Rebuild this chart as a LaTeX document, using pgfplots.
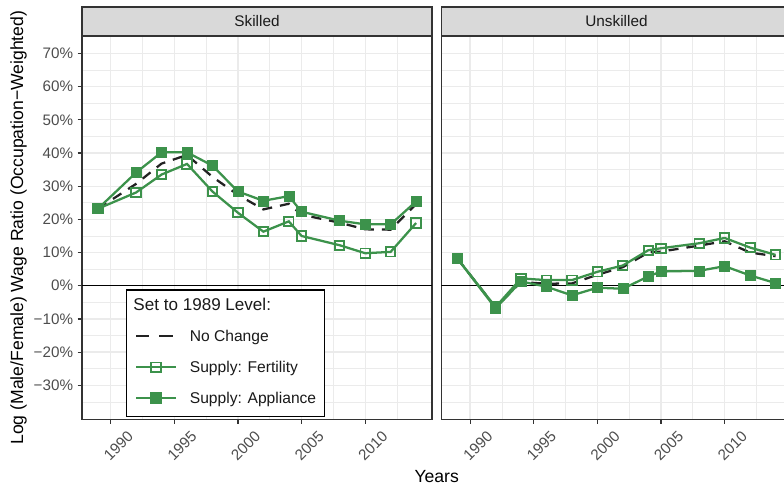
\documentclass[border=0pt]{standalone}
\usepackage{pgfplots}
\usepackage{pgfplotstable}
\pgfplotsset{compat=1.18}
\usepackage{fontspec}
\setmainfont{Liberation Sans}
\definecolor{grn}{RGB}{60,146,75}
\definecolor{g92}{HTML}{EBEBEB}
\definecolor{g85}{HTML}{D9D9D9}
\definecolor{g30}{HTML}{4D4D4D}
\definecolor{g20}{HTML}{333333}
\definecolor{g10}{HTML}{1A1A1A}
\definecolor{dsh}{HTML}{222222}

\pgfplotstableread{
year nc fe ap
1989 23.2 23.2 23.2
1992 30.7 28.1 34.1
1994 36.8 33.5 40.2
1996 39.4 36.7 40.2
1998 32.8 28.4 36.2
2000 27.4 22.0 28.4
2002 23.0 16.3 25.6
2004 24.7 19.4 27.0
2005 21.4 15.0 22.3
2008 19.0 12.2 19.6
2010 17.0 9.8 18.5
2012 16.9 10.2 18.5
2014 24.6 18.9 25.4
}\skilled

\pgfplotstableread{
year nc fe ap
1989 8.2 8.2 8.2
1992 -6.5 -6.4 -6.8
1994 1.1 2.2 1.3
1996 0.6 1.7 -0.3
1998 0.7 1.7 -2.9
2000 3.3 4.2 -0.6
2002 5.6 6.1 -0.9
2004 10.0 10.7 2.8
2005 10.3 11.3 4.3
2008 12.1 12.8 4.5
2010 13.4 14.4 5.9
2012 10.0 11.5 3.1
2014 8.9 9.3 0.8
}\unskilled

\pgfplotsset{
  panel/.style={
    scale only axis, width=262.5pt, height=287.5pt,
    xmin=1987.75, xmax=2015.25, ymin=-40.25, ymax=75.25,
    xtick={1990,1995,2000,2005,2010},
    xticklabels={1990,1995,2000,2005,2010},
    minor xtick={1987.5,1992.5,1997.5,2002.5,2007.5,2012.5},
    ytick={-30,-20,-10,0,10,20,30,40,50,60,70},
    minor ytick={-35,-25,-15,-5,5,15,25,35,45,55,65,75},
    grid=both,
    major grid style={g92, line width=1pt},
    minor grid style={g92, line width=0.6pt},
    minor tick length=0pt,
    major tick length=3.2pt,
    tick align=outside,
    tick pos=left,
    tick style={g20, line width=0.9pt},
    axis line style={g20, line width=1pt},
    xticklabel style={font=\fontsize{11.4}{13}\selectfont, text=g30, xshift=5.8pt, yshift=-17pt, rotate=45, anchor=center},
    yticklabel style={font=\fontsize{11.4}{13}\selectfont, text=g30},
    every axis title shift=0pt,
    title style={at={(axis description cs:0.5,1)}, anchor=south, draw=g20, fill=g85, line width=1pt,
      minimum width=262.5pt, minimum height=21.75pt, inner sep=0pt, outer sep=0pt,
      text=g10, font=\fontsize{11.5}{13}\selectfont},
  },
  nc/.style={dsh, line width=1.7pt, dash pattern=on 7.5pt off 6pt},
  gl/.style={grn, line width=1.7pt},
  fm/.style={grn, only marks, mark=square, mark size=3.5pt, mark options={line width=1.4pt}},
  am/.style={grn, only marks, mark=square*, mark size=3.75pt, mark options={fill=grn, draw=none}},
}

\begin{document}
\begin{tikzpicture}
\begin{axis}[panel, at={(61.5pt,54.5pt)}, anchor=south west,
  title={Skilled},
  yticklabels={−30\%,−20\%,−10\%,0\%,10\%,20\%,30\%,40\%,50\%,60\%,70\%},
  ylabel={Log (Male/Female) Wage Ratio (Occupation−Weighted)},
  ylabel style={at={(axis description cs:-0.1814,0.5)}, anchor=center, font=\fontsize{13.2}{15}\selectfont, text=black},
  xlabel={Years},
  xlabel style={at={(axis description cs:1.0134,-0.1505)}, anchor=center, font=\fontsize{13.2}{15}\selectfont, text=black},
  legend cell align=left,
  legend image code/.code={\draw[mark repeat=2, mark phase=2, #1, yshift=1.2pt] plot coordinates {(0pt,0pt) (15pt,0pt) (30pt,0pt)};},
  legend style={at={(axis description cs:0.1257,0.3392)}, anchor=north west,
    draw=black, line width=1pt, fill=white, text=g10,
    font=\fontsize{11.7}{14}\selectfont,
    inner xsep=6.2pt, inner ysep=6.9pt, row sep=11.85pt, column sep=9.5pt,
    nodes={inner sep=0pt, text height=8.6pt, text depth=2.8pt}},
]
\addplot[black, line width=1pt, forget plot] coordinates {(1987.75,0) (2015.25,0)};
\addplot[nc, forget plot] table[x=year, y=nc] {\skilled};
\addplot[gl, forget plot] table[x=year, y=fe] {\skilled};
\addplot[gl, forget plot] table[x=year, y=ap] {\skilled};
\addplot[fm, forget plot] table[x=year, y=fe] {\skilled};
\addplot[am, forget plot] table[x=year, y=ap] {\skilled};
\addlegendimage{empty legend}
\addlegendentry{\hspace*{-42.3pt}\fontsize{12.8}{15}\selectfont Set to 1989 Level:}
\addlegendimage{dsh, line width=1.7pt, dash pattern=on 10pt off 7.5pt}
\addlegendentry{No Change}
\addlegendimage{grn, line width=1.7pt, mark=square, mark size=3.5pt, mark options={solid, line width=1.4pt}}
\addlegendentry{Supply: Fertility}
\addlegendimage{grn, line width=1.7pt, mark=square*, mark size=3.75pt, mark options={solid, fill=grn, draw=none}}
\addlegendentry{Supply: Appliance}
\end{axis}

\begin{axis}[panel, at={(331.1pt,54.5pt)}, anchor=south west,
  title={Unskilled},
  yticklabels={},
  ytick style={draw=none},
]
\addplot[black, line width=1pt, forget plot] coordinates {(1987.75,0) (2015.25,0)};
\addplot[nc, forget plot] table[x=year, y=nc] {\unskilled};
\addplot[gl, forget plot] table[x=year, y=fe] {\unskilled};
\addplot[gl, forget plot] table[x=year, y=ap] {\unskilled};
\addplot[fm, forget plot] table[x=year, y=fe] {\unskilled};
\addplot[am, forget plot] table[x=year, y=ap] {\unskilled};
\end{axis}
\pgfresetboundingbox
\useasboundingbox (0,0) rectangle (588pt,369pt);
\end{tikzpicture}
\end{document}
